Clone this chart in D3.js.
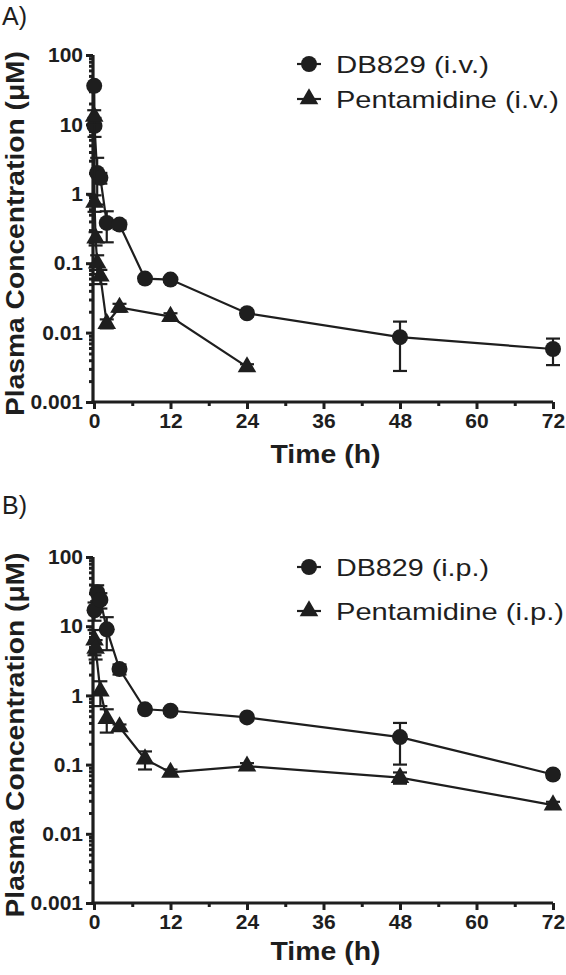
<!DOCTYPE html>
<html><head><meta charset="utf-8">
<script src="https://cdn.jsdelivr.net/npm/d3@7"></script>
<style>body{margin:0;background:#fff;} svg{display:block;}</style>
</head><body>
<svg id="c" width="566" height="975"></svg>
<script>
// ---- data ----
const xTicks = [0, 12, 24, 36, 48, 60, 72];
const xMinor = [6, 18, 30, 42, 54, 66];
const yTicks = [0.001, 0.01, 0.1, 1, 10, 100];
const yTickLabels = ["0.001", "0.01", "0.1", "1", "10", "100"];

const A_db_t   = [0.033, 0.083, 0.5, 1, 2, 4, 8, 12, 24, 48, 72];
const A_db_v   = [36, 9.5, 2.0, 1.7, 0.38, 0.36, 0.06, 0.058, 0.019, 0.0086, 0.0058];
const A_db_e   = [0, 2.9, 1.3, 0.3, 0.18, 0.05, 0.005, 0.004, 0.002, 0.0058, 0.0024];
const A_pe_t   = [0.033, 0.083, 0.25, 0.5, 1, 2, 4, 12, 24];
const A_pe_v   = [13, 0.75, 0.23, 0.1, 0.065, 0.0135, 0.023, 0.017, 0.0032];
const A_pe_e   = [3, 0.2, 0.05, 0.03, 0.015, 0.002, 0.003, 0.002, 0.0003];

const B_db_t   = [0.083, 0.5, 1, 2, 4, 8, 12, 24, 48, 72];
const B_db_v   = [17, 31, 24, 9, 2.4, 0.63, 0.6, 0.48, 0.25, 0.072];
const B_db_e   = [5, 8, 6, 4.5, 0.4, 0.06, 0.05, 0.04, 0.15, 0.008];
const B_pe_t   = [0.083, 0.25, 1, 2, 4, 8, 12, 24, 48, 72];
const B_pe_v   = [6.3, 4.8, 1.15, 0.46, 0.35, 0.12, 0.077, 0.095, 0.065, 0.026];
const B_pe_e   = [2.5, 1.5, 0.45, 0.17, 0.03, 0.035, 0.008, 0.01, 0.012, 0.003];

const panels = [
  {label: "A)", legend: ["DB829 (i.v.)", "Pentamidine (i.v.)"],
   series: [{t: A_db_t, v: A_db_v, e: A_db_e, shape: "circle"},
            {t: A_pe_t, v: A_pe_v, e: A_pe_e, shape: "triangle"}]},
  {label: "B)", legend: ["DB829 (i.p.)", "Pentamidine (i.p.)"],
   series: [{t: B_db_t, v: B_db_v, e: B_db_e, shape: "circle"},
            {t: B_pe_t, v: B_pe_v, e: B_pe_e, shape: "triangle"}]}
];

// ---- layout ----
const ink = "#1e1e1e";
const svg = d3.select("#c");
const layout = [
  {top: 55, bottom: 402, labelY: 25, legY: [64, 99], xLabY: 430, titleY: 463},
  {top: 557, bottom: 903, labelY: 514, legY: [567, 611], xLabY: 934, titleY: 960}
];
const left = 94, right = 553;
const minorVals = [];
for (let d = -3; d < 2; d++) for (let k = 2; k <= 9; k++) minorVals.push(k * Math.pow(10, d));

panels.forEach((p, i) => {
  const L = layout[i];
  const g = svg.append("g");
  const x = d3.scaleLinear().domain([0, 72]).range([left, right]);
  const y = d3.scaleLog().domain([0.001, 100]).range([L.bottom, L.top]);

  // panel label
  g.append("text").attr("x", 2).attr("y", L.labelY)
    .attr("font-family", "Liberation Sans, Arial, sans-serif").attr("font-size", 25)
    .attr("fill", ink).text(p.label);

  // y axis
  const ya = g.append("g").attr("transform", `translate(${left - 1},0)`)
    .call(d3.axisLeft(y).tickValues(yTicks).tickSize(7).tickPadding(3)
      .tickFormat((d, j) => yTickLabels[j]));
  const ym = g.append("g").attr("transform", `translate(${left - 1},0)`)
    .call(d3.axisLeft(y).tickValues(minorVals).tickSize(4).tickFormat(""));
  // x axis
  const xa = g.append("g").attr("transform", `translate(0,${L.bottom})`)
    .call(d3.axisBottom(x).tickValues(xTicks).tickSize(7).tickPadding(4));
  const xm = g.append("g").attr("transform", `translate(0,${L.bottom})`)
    .call(d3.axisBottom(x).tickValues(xMinor).tickSize(4).tickFormat(""));
  [ya, ym, xa, xm].forEach(a => {
    a.select(".domain").attr("stroke", ink).attr("stroke-width", 3.2);
    a.selectAll(".tick line").attr("stroke", ink).attr("stroke-width", 3);
    a.selectAll("text").attr("font-family", "Liberation Sans, Arial, sans-serif")
      .attr("font-weight", "bold").attr("font-size", 21).attr("fill", ink);
  });
  ya.select(".domain").attr("d", `M0,${L.top}V${L.bottom + 1.5}`);
  ym.select(".domain").remove();
  xm.select(".domain").remove();
  xa.select(".domain").attr("d", `M${left - 2.5},0H${right}`);

  // axis titles
  g.append("text").attr("x", (left + right) / 2 + 2).attr("y", L.titleY)
    .attr("text-anchor", "middle").attr("font-family", "Liberation Sans, Arial, sans-serif")
    .attr("font-weight", "bold").attr("font-size", 25).attr("fill", ink)
    .attr("textLength", 110).attr("lengthAdjust", "spacingAndGlyphs").text("Time (h)");
  const cy = (L.top + L.bottom) / 2;
  g.append("text").attr("transform", `translate(24,${cy + 5}) rotate(-90)`)
    .attr("text-anchor", "middle").attr("font-family", "Liberation Sans, Arial, sans-serif")
    .attr("font-weight", "bold").attr("font-size", 25).attr("fill", ink)
    .attr("textLength", 365).attr("lengthAdjust", "spacingAndGlyphs")
    .text("Plasma Concentration (μM)");

  // series
  const line = d3.line().x(d => x(d.t)).y(d => y(d.v));
  const tri = d3.symbol().type(d3.symbolTriangle).size(150);
  p.series.forEach(s => {
    const pts = s.t.map((t, k) => ({t, v: s.v[k], e: s.e[k]}));
    g.append("path").datum(pts).attr("d", line).attr("fill", "none")
      .attr("stroke", ink).attr("stroke-width", 2.2);
    pts.filter(d => d.e > 0).forEach(d => {
      const lo = Math.max(d.v - d.e, 0.0011), hi = d.v + d.e;
      g.append("line").attr("x1", x(d.t)).attr("x2", x(d.t)).attr("y1", y(lo)).attr("y2", y(hi))
        .attr("stroke", ink).attr("stroke-width", 2.2);
      [lo, hi].forEach(b => g.append("line").attr("x1", x(d.t) - 7).attr("x2", x(d.t) + 7)
        .attr("y1", y(b)).attr("y2", y(b)).attr("stroke", ink).attr("stroke-width", 2.2));
    });
    if (s.shape === "circle") {
      g.selectAll(null).data(pts).enter().append("circle")
        .attr("cx", d => x(d.t)).attr("cy", d => y(d.v)).attr("r", 8).attr("fill", ink);
    } else {
      g.selectAll(null).data(pts).enter().append("path").attr("d", tri)
        .attr("transform", d => `translate(${x(d.t)},${y(d.v)})`).attr("fill", ink);
    }
  });

  // legend
  const lens = [[153, 223], [153, 228]][i];
  p.legend.forEach((txt, k) => {
    const ly = L.legY[k];
    g.append("line").attr("x1", 297).attr("x2", 321).attr("y1", ly).attr("y2", ly)
      .attr("stroke", ink).attr("stroke-width", 2.2);
    if (k === 0) g.append("circle").attr("cx", 309).attr("cy", ly).attr("r", 8).attr("fill", ink);
    else g.append("path").attr("d", tri).attr("transform", `translate(309,${ly})`).attr("fill", ink);
    g.append("text").attr("x", 336).attr("y", ly + 8.5)
      .attr("font-family", "Liberation Sans, Arial, sans-serif").attr("font-size", 24)
      .attr("fill", ink).attr("textLength", lens[k]).attr("lengthAdjust", "spacingAndGlyphs")
      .text(txt);
  });
});
</script>
</body></html>
